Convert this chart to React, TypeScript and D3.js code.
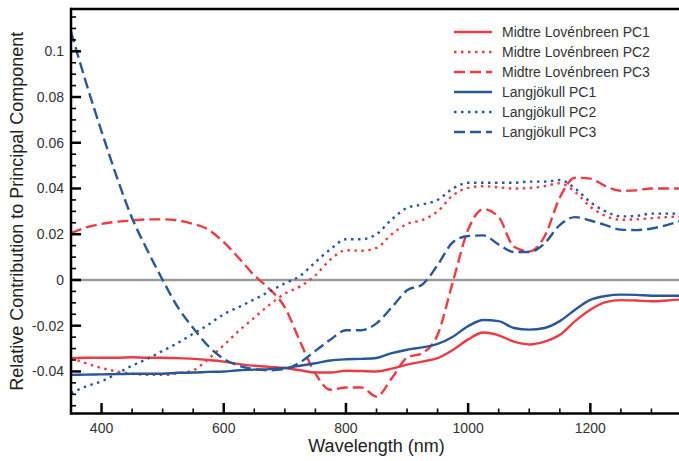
import React from 'react';
import * as d3 from 'd3';

const wavelengths = [350, 375, 400, 425, 450, 475, 500, 525, 550, 575, 600, 625, 650, 675, 700, 725, 750, 775, 800, 825, 850, 875, 900, 925, 950, 975, 1000, 1025, 1050, 1075, 1100, 1125, 1150, 1175, 1200, 1225, 1250, 1275, 1300, 1325, 1350];

const midtrePC1 = [-0.0342, -0.034, -0.034, -0.034, -0.0338, -0.034, -0.034, -0.0342, -0.0345, -0.035, -0.0357, -0.0368, -0.0375, -0.038, -0.0385, -0.0395, -0.0405, -0.0405, -0.0397, -0.0398, -0.04, -0.0388, -0.037, -0.0357, -0.0342, -0.0306, -0.026, -0.023, -0.0242, -0.027, -0.0282, -0.027, -0.024, -0.018, -0.013, -0.0097, -0.0088, -0.009, -0.0093, -0.009, -0.0085];
const midtrePC2 = [-0.034, -0.0365, -0.0385, -0.04, -0.041, -0.0415, -0.0415, -0.0408, -0.0395, -0.0345, -0.0285, -0.0222, -0.0165, -0.0108, -0.006, -0.0028, 0.002, 0.009, 0.013, 0.0128, 0.014, 0.02, 0.0245, 0.0262, 0.03, 0.037, 0.0403, 0.041, 0.0405, 0.04, 0.0402, 0.041, 0.0423, 0.0385, 0.032, 0.028, 0.0263, 0.0265, 0.027, 0.0275, 0.0278];
const midtrePC3 = [0.0205, 0.023, 0.0245, 0.0255, 0.026, 0.0265, 0.0265, 0.026, 0.0245, 0.022, 0.0165, 0.0095, 0.002, -0.004, -0.012, -0.027, -0.041, -0.048, -0.047, -0.047, -0.051, -0.043, -0.034, -0.032, -0.024, -0.0008, 0.022, 0.031, 0.0275, 0.0145, 0.0125, 0.019, 0.036, 0.0447, 0.0443, 0.041, 0.039, 0.0392, 0.04, 0.04, 0.04];
const langPC1 = [-0.0415, -0.0414, -0.0413, -0.0412, -0.041, -0.041, -0.041, -0.0406, -0.0405, -0.0402, -0.04, -0.0395, -0.0392, -0.039, -0.0385, -0.0375, -0.0364, -0.0352, -0.0347, -0.0345, -0.0341, -0.032, -0.0305, -0.0295, -0.028, -0.0248, -0.0202, -0.0175, -0.018, -0.021, -0.0217, -0.021, -0.018, -0.013, -0.0087, -0.007, -0.0064, -0.0065, -0.0069, -0.0069, -0.0069];
const langPC2 = [-0.0495, -0.0465, -0.0443, -0.041, -0.0375, -0.0345, -0.031, -0.0275, -0.0235, -0.0195, -0.015, -0.0118, -0.0085, -0.005, -0.0015, 0.0018, 0.0078, 0.0135, 0.0178, 0.0178, 0.02, 0.0265, 0.0315, 0.033, 0.035, 0.04, 0.0425, 0.0425, 0.0425, 0.0425, 0.043, 0.043, 0.0437, 0.04, 0.034, 0.03, 0.0278, 0.028, 0.029, 0.029, 0.029];
const langPC3 = [0.1086, 0.086, 0.065, 0.045, 0.027, 0.013, 0.0, -0.012, -0.021, -0.029, -0.0345, -0.0375, -0.039, -0.0395, -0.039, -0.036, -0.031, -0.026, -0.022, -0.022, -0.019, -0.012, -0.0045, -0.002, 0.0065, 0.0165, 0.0192, 0.0195, 0.0155, 0.0122, 0.0122, 0.016, 0.024, 0.0275, 0.026, 0.024, 0.022, 0.0218, 0.0225, 0.024, 0.026];

const seriesLabels = ['Midtre Lovénbreen PC1', 'Midtre Lovénbreen PC2', 'Midtre Lovénbreen PC3', 'Langjökull PC1', 'Langjökull PC2', 'Langjökull PC3'];
const seriesValues = [midtrePC1, midtrePC2, midtrePC3, langPC1, langPC2, langPC3];
const seriesColors = ['#ee3a43', '#ee3a43', '#ee3a43', '#28579a', '#28579a', '#28579a'];
const seriesDash = ['none', '2.5,4.5', '11,5', 'none', '2.5,4.5', '11,5'];

const xTickValues = [400, 600, 800, 1000, 1200];
const xTickLabels = ['400', '600', '800', '1000', '1200'];
const yTickValues = [-0.04, -0.02, 0, 0.02, 0.04, 0.06, 0.08, 0.1];
const yTickLabels = ['-0.04', '-0.02', '0', '0.02', '0.04', '0.06', '0.08', '0.1'];

const xTitle = 'Wavelength (nm)';
const yTitle = 'Relative Contribution to Principal Component';

export default function App() {
  const W = 679, H = 461;
  const left = 71, right = 682, top = 9, bottom = 413.5;
  const x = d3.scaleLinear().domain([350, 1350]).range([left, right]);
  const y = d3.scaleLinear().domain([-0.0584, 0.1185]).range([bottom, top]);
  const xMinor = d3.range(400, 1351, 50).filter((v) => v % 200 !== 0);
  const yMinor = d3.range(-11, 24).map((i) => i * 0.005).filter((v) => Math.abs(Math.round(v * 1000) % 20) !== 0);
  const font = '"Liberation Sans", Arial, Helvetica, sans-serif';

  const line = (vals: number[]) =>
    d3.line<number>()
      .x((_, i) => x(wavelengths[i]))
      .y((d) => y(d))
      .curve(d3.curveMonotoneX)(vals) as string;

  return (
    <svg width={W} height={H} style={{ position: 'absolute', left: 0, top: 0, background: '#fff' }} fontFamily={font}>
      <defs>
        <clipPath id="plot">
          <rect x={left} y={top} width={right - left} height={bottom - top} />
        </clipPath>
      </defs>
      <rect x={0} y={0} width={W} height={H} fill="#fff" />
      <line x1={left} x2={right} y1={y(0)} y2={y(0)} stroke="#9a9a9a" strokeWidth={2.5} />
      <g clipPath="url(#plot)">
        {seriesValues.map((vals, i) => (
          <path key={i} d={line(vals)} fill="none" stroke={seriesColors[i]} strokeWidth={2.4}
            strokeDasharray={seriesDash[i]} strokeLinejoin="round" />
        ))}
      </g>
      {yTickValues.map((v) => (
        <line key={'ym' + v} x1={left} x2={left + 10} y1={y(v)} y2={y(v)} stroke="#000" strokeWidth={2.5} />
      ))}
      {yMinor.map((v) => (
        <line key={'yn' + v} x1={left} x2={left + 5} y1={y(v)} y2={y(v)} stroke="#000" strokeWidth={1.6} />
      ))}
      {yTickValues.map((v, i) => (
        <text key={'yl' + v} x={64} y={y(v)} textAnchor="end" dominantBaseline="central" fontSize={14} fill="#333">
          {yTickLabels[i]}
        </text>
      ))}
      {xTickValues.map((v) => (
        <line key={'xm' + v} x1={x(v)} x2={x(v)} y1={bottom} y2={bottom - 10.5} stroke="#000" strokeWidth={2.5} />
      ))}
      {xMinor.map((v) => (
        <line key={'xn' + v} x1={x(v)} x2={x(v)} y1={bottom} y2={bottom - 5} stroke="#000" strokeWidth={1.6} />
      ))}
      {xTickValues.map((v, i) => (
        <text key={'xl' + v} x={x(v)} y={433} textAnchor="middle" fontSize={14} fill="#333">
          {xTickLabels[i]}
        </text>
      ))}
      <line x1={left} x2={right} y1={top} y2={top} stroke="#000" strokeWidth={2.5} />
      <line x1={left} x2={left} y1={top - 1.25} y2={bottom + 1.25} stroke="#000" strokeWidth={2.5} />
      <line x1={left} x2={right} y1={bottom} y2={bottom} stroke="#000" strokeWidth={2.5} />
      <text x={(left + right) / 2} y={452} textAnchor="middle" fontSize={18} fill="#222">{xTitle}</text>
      <text transform={`translate(23, ${(top + bottom) / 2}) rotate(-90)`} textAnchor="middle" fontSize={18} fill="#222">{yTitle}</text>
      {seriesLabels.map((lab, i) => (
        <g key={lab} transform={`translate(0, ${32 + i * 20})`}>
          <line x1={454} x2={492} y1={0} y2={0} stroke={seriesColors[i]} strokeWidth={2.5} strokeDasharray={seriesDash[i]} />
          <text x={502} y={0} dominantBaseline="central" fontSize={14} fill="#333">{lab}</text>
        </g>
      ))}
    </svg>
  );
}
